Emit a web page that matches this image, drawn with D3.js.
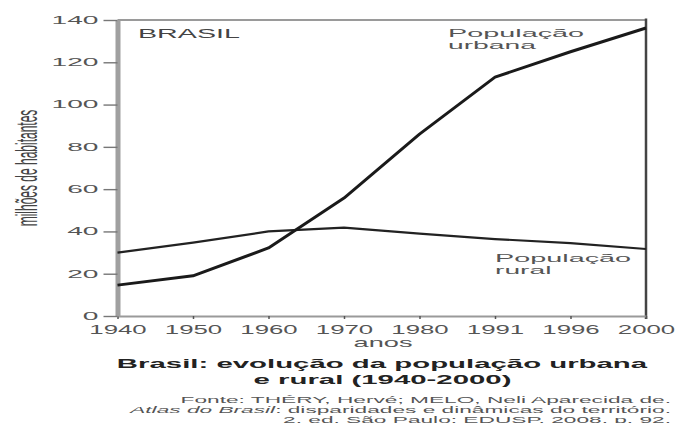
<!DOCTYPE html>
<html>
<head>
<meta charset="utf-8">
<script src="https://cdn.jsdelivr.net/npm/d3@7"></script>
<style>
  html, body { margin: 0; padding: 0; background: #fff; }
  svg { display: block; font-family: "Liberation Sans", Arial, Helvetica, sans-serif; }
</style>
</head>
<body>
<svg id="chart" width="678" height="423"></svg>
<script>
// Census years (evenly spaced on the axis) and population in millions
const years = ["1940", "1950", "1960", "1970", "1980", "1991", "1996", "2000"];
const urbana = [14.6, 19, 32.2, 55.8, 86, 113, 125, 136.2];
const rural = [30, 34.7, 40, 41.8, 39, 36.4, 34.5, 31.7];
const yTicks = [0, 20, 40, 60, 80, 100, 120, 140];

const svg = d3.select("#chart");

const plotLeft = 117.5, plotRight = 646, plotTop = 20, plotBottom = 316;
const x = d3.scalePoint().domain(years).range([plotLeft, plotRight]);
const y = d3.scaleLinear().domain([0, 140]).range([plotBottom, plotTop]);

// Text drawn with a horizontal stretch (wide lettering)
function stext(parent, px, py, str, o) {
  const g = parent.append("g")
    .attr("transform", `translate(${px},${py}) scale(${o.k},1)`);
  const t = g.append("text")
    .attr("text-anchor", o.anchor || "start")
    .attr("font-size", o.size)
    .attr("font-weight", o.weight || "normal")
    .attr("fill", o.fill || "#555");
  if (Array.isArray(str)) {
    str.forEach(p => t.append("tspan").attr("font-style", p.italic ? "italic" : "normal").text(p.t));
  } else {
    t.text(str);
  }
  return t;
}

// Frame: top border and right border
svg.append("line").attr("x1", plotLeft).attr("x2", plotRight).attr("y1", plotTop).attr("y2", plotTop)
  .attr("stroke", "#9a9a9a").attr("stroke-width", 2);
svg.append("line").attr("x1", plotRight).attr("x2", plotRight).attr("y1", plotTop - 1.5).attr("y2", plotBottom + 3)
  .attr("stroke", "#444").attr("stroke-width", 2.5);

// Bottom axis
const kx = 2.15;
const xAxis = svg.append("g")
  .attr("transform", `translate(0,${plotBottom})`)
  .call(d3.axisBottom(x).tickSize(3).tickPadding(6).tickSizeOuter(0));
xAxis.select(".domain").attr("stroke", "#9a9a9a").attr("stroke-width", 2);
xAxis.selectAll(".tick line").attr("stroke", "#555").attr("stroke-width", 1.5);
xAxis.selectAll(".tick text")
  .attr("font-size", 12).attr("fill", "#555")
  .attr("font-family", "Liberation Sans, Arial, sans-serif")
  .attr("transform", `scale(${kx},1)`);

// Left axis (thick gray bar)
const ky = 2.68;
const yAxis = svg.append("g")
  .attr("transform", `translate(${plotLeft},0)`)
  .call(d3.axisLeft(y).tickValues(yTicks).tickSize(14).tickPadding(5).tickSizeOuter(0));
yAxis.select(".domain").attr("stroke", "#a0a0a0").attr("stroke-width", 5);
yAxis.selectAll(".tick line").attr("stroke", "#777").attr("stroke-width", 1.4);
yAxis.selectAll(".tick text")
  .attr("font-size", 10.5).attr("fill", "#555")
  .attr("font-family", "Liberation Sans, Arial, sans-serif")
  .attr("x", -19 / ky)
  .attr("transform", `scale(${ky},1)`);

// Series lines
const line = d3.line().x((d, i) => x(years[i])).y(d => y(d));
svg.append("path").datum(rural).attr("d", line)
  .attr("fill", "none").attr("stroke", "#222").attr("stroke-width", 2.2)
  .attr("stroke-linejoin", "round");
svg.append("path").datum(urbana).attr("d", line)
  .attr("fill", "none").attr("stroke", "#1a1a1a").attr("stroke-width", 3)
  .attr("stroke-linejoin", "round");

// In-plot labels
stext(svg, 138, 38, "BRASIL", { size: 12, k: 2.39, fill: "#444" });
stext(svg, 448, 36.5, "População", { size: 11.3, k: 2.55, fill: "#555" });
stext(svg, 448, 49, "urbana", { size: 11.3, k: 2.5, fill: "#555" });
stext(svg, 495, 261.5, "População", { size: 11.3, k: 2.55, fill: "#555" });
stext(svg, 495, 274, "rural", { size: 11.3, k: 2.5, fill: "#555" });

// Axis titles
svg.append("g")
  .attr("transform", "translate(37,168) scale(2.4,1) rotate(-90)")
  .append("text").attr("text-anchor", "middle").attr("font-size", 12)
  .attr("fill", "#444").text("milhões de habitantes");
stext(svg, 383, 347, "anos", { size: 12, k: 2.27, anchor: "middle", fill: "#555" });

// Caption
stext(svg, 382, 368, "Brasil: evolução da população urbana", { size: 13, k: 2.26, anchor: "middle", weight: "bold", fill: "#222" });
stext(svg, 382.5, 384, "e rural (1940-2000)", { size: 13, k: 2.26, anchor: "middle", weight: "bold", fill: "#222" });

// Source
const ks = 2.67;
stext(svg, 671, 403, "Fonte: THÉRY, Hervé; MELO, Neli Aparecida de.", { size: 8.5, k: ks, anchor: "end" });
stext(svg, 671, 413, [{ t: "Atlas do Brasil", italic: true }, { t: ": disparidades e dinâmicas do território." }], { size: 8.5, k: ks, anchor: "end" });
stext(svg, 671, 422.5, "2. ed. São Paulo: EDUSP, 2008. p. 92.", { size: 8.5, k: ks, anchor: "end" });
</script>
</body>
</html>
